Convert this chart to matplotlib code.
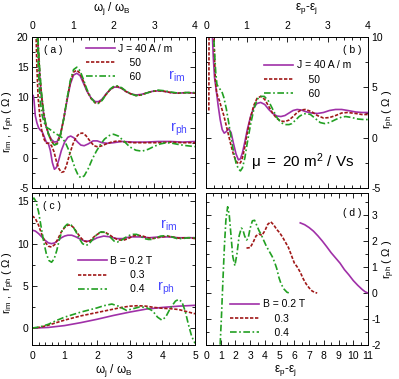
import matplotlib
matplotlib.use("Agg")
import matplotlib.pyplot as plt
from matplotlib.ticker import MultipleLocator
from matplotlib.lines import Line2D

plt.rcParams['font.family'] = ['Liberation Sans', 'DejaVu Sans']
plt.rcParams['mathtext.fontset'] = 'custom'
plt.rcParams['mathtext.rm'] = 'Liberation Sans'
plt.rcParams['mathtext.it'] = 'Liberation Sans'
plt.rcParams['axes.unicode_minus'] = False

# ---------------- panel (a): r_im, r_ph vs w_j / w_B ----------------
a_im40_x = [0.13, 0.16, 0.19, 0.23, 0.28, 0.34, 0.41, 0.48, 0.55, 0.62, 0.70, 0.78, 0.86, 0.94, 1.02, 1.10, 1.18,
            1.26, 1.35, 1.45, 1.55, 1.63, 1.72, 1.82, 1.92, 2.02, 2.10, 2.20, 2.30, 2.42, 2.55, 2.68, 2.80, 2.95,
            3.10, 3.25, 3.40, 3.60, 3.80, 4.00]
a_im40_y = [21, 17, 13.5, 10.2, 7.5, 5.3, 3.9, 3.0, 2.6, 2.7, 4.0, 6.5, 9.5, 12.2, 13.7, 14.0, 13.6, 12.4, 11.0,
            9.9, 9.3, 9.3, 9.7, 10.6, 11.3, 11.7, 11.7, 11.5, 11.0, 10.6, 10.4, 10.5, 10.7, 11.0, 11.1, 11.0,
            10.8, 10.7, 10.8, 10.7]
a_im50_x = a_im40_x
a_im50_y = [21.5, 17.5, 14, 10.6, 7.7, 5.4, 3.8, 2.7, 2.2, 2.4, 3.8, 6.5, 9.7, 12.5, 14.2, 14.5, 14.0, 12.7, 11.1,
            9.8, 9.1, 9.1, 9.6, 10.5, 11.3, 11.8, 11.8, 11.5, 11.0, 10.6, 10.3, 10.4, 10.7, 11.0, 11.1, 11.0,
            10.8, 10.7, 10.8, 10.7]
a_im60_x = a_im40_x
a_im60_y = [22, 18, 14.5, 11, 8, 5.5, 3.8, 2.6, 2.1, 2.3, 3.8, 6.5, 9.8, 12.8, 14.6, 15.0, 14.4, 13.0, 11.3,
            9.9, 9.1, 9.0, 9.5, 10.5, 11.4, 11.9, 11.9, 11.6, 11.1, 10.6, 10.3, 10.4, 10.7, 11.0, 11.2, 11.1,
            10.9, 10.7, 10.8, 10.8]

a_ph40_x = [0.03, 0.05, 0.08, 0.12, 0.16, 0.20, 0.25, 0.30, 0.35, 0.40, 0.45, 0.50, 0.55, 0.60, 0.66, 0.72, 0.80,
            0.88, 0.95, 1.03, 1.12, 1.20, 1.28, 1.38, 1.50, 1.60, 1.72, 1.85, 2.0, 2.2, 2.5, 2.8, 3.1, 3.4, 3.7, 4.0]
a_ph40_y = [10.3, 9.5, 7.0, 5.8, 5.0, 4.6, 4.3, 3.5, 2.6, 2.4, 1.2, -0.8, -1.9, -1.6, -0.3, 1.2, 2.6, 3.4, 3.6,
            3.3, 2.6, 2.1, 2.0, 2.3, 2.8, 2.8, 2.5, 2.4, 2.5, 2.7, 2.6, 2.6, 2.7, 2.7, 2.6, 2.7]
a_ph50_x = [0.10, 0.12, 0.15, 0.19, 0.24, 0.30, 0.36, 0.42, 0.48, 0.54, 0.60, 0.66, 0.72, 0.78, 0.84, 0.92, 1.00,
            1.08, 1.16, 1.24, 1.32, 1.42, 1.52, 1.62, 1.72, 1.82, 1.95, 2.1, 2.3, 2.5, 2.8, 3.1, 3.4, 3.7, 4.0]
a_ph50_y = [20.5, 15, 10, 7, 4.5, 3.0, 2.4, 2.4, 2.0, 1.0, -0.6, -1.8, -2.4, -2.3, -1.4, 0.5, 2.2, 3.4, 4.0, 4.1,
            3.7, 2.8, 2.0, 1.8, 2.0, 2.3, 2.6, 2.8, 2.6, 2.5, 2.5, 2.5, 2.6, 2.5, 2.5]
a_ph60_x = [0.13, 0.16, 0.20, 0.25, 0.30, 0.36, 0.42, 0.50, 0.58, 0.66, 0.74, 0.82, 0.90, 0.98, 1.06, 1.14, 1.20,
            1.28, 1.38, 1.48, 1.58, 1.68, 1.78, 1.90, 2.00, 2.12, 2.25, 2.40, 2.55, 2.70, 2.85, 3.00, 3.15, 3.30,
            3.45, 3.60, 3.80, 4.00]
a_ph60_y = [20.5, 14, 9.5, 7, 5.8, 5.0, 4.8, 4.4, 4.0, 3.7, 3.3, 2.5, 1.3, -0.2, -1.8, -3.0, -3.3, -3.0, -1.8,
            -0.2, 1.1, 2.2, 3.1, 3.7, 3.9, 3.6, 2.8, 1.8, 1.25, 1.1, 1.4, 1.9, 2.3, 2.5, 2.4, 2.2, 2.0, 1.85]

# ---------------- panel (b): r_ph vs e_p - e_j ----------------
b40_x = [0.15, 0.18, 0.21, 0.25, 0.30, 0.35, 0.40, 0.45, 0.50, 0.56, 0.62, 0.68, 0.74, 0.80, 0.85, 0.90, 0.96,
         1.02, 1.10, 1.18, 1.26, 1.35, 1.45, 1.55, 1.65, 1.75, 1.85, 1.95, 2.05, 2.15, 2.25, 2.35, 2.45, 2.60,
         2.75, 2.90, 3.05, 3.20, 3.35, 3.50, 3.70, 3.85, 4.0]
b40_y = [11, 8, 6, 4.8, 3.2, 1.8, 0.8, 0.45, 0.6, 0.9, 0.5, -0.6, -1.6, -2.2, -2.1, -1.5, -0.4, 0.8, 2.1, 3.0,
         3.4, 3.5, 3.3, 2.8, 2.4, 2.15, 2.1, 2.2, 2.45, 2.7, 2.8, 2.75, 2.6, 2.45, 2.4, 2.5, 2.7, 2.8, 2.8,
         2.7, 2.55, 2.5, 2.5]
b50_x = [0.07, 0.075, 0.19, 0.21, 0.23, 0.26, 0.29, 0.33, 0.38, 0.44, 0.50, 0.56, 0.62, 0.68, 0.74, 0.80, 0.85,
         0.90, 0.96, 1.02, 1.10, 1.18, 1.26, 1.35, 1.45, 1.55, 1.65, 1.75, 1.85, 1.95, 2.05, 2.15, 2.25, 2.35,
         2.45, 2.60, 2.75, 2.90, 3.05, 3.20, 3.35, 3.50, 3.70, 3.85, 4.0]
b50_y = [2.7, 11, 11, 8, 5.8, 4.6, 4.1, 3.7, 3.0, 2.2, 1.2, 0.2, -0.8, -1.7, -2.3, -2.6, -2.5, -2.0, -0.9, 0.5,
         2.0, 3.2, 3.9, 4.1, 3.8, 3.1, 2.4, 1.9, 1.65, 1.6, 1.75, 2.1, 2.5, 2.75, 2.8, 2.6, 2.2, 1.95, 2.0,
         2.2, 2.45, 2.5, 2.4, 2.3, 2.3]
b60_x = [0.18, 0.21, 0.24, 0.27, 0.31, 0.35, 0.39, 0.44, 0.50, 0.56, 0.62, 0.68, 0.74, 0.80, 0.85, 0.90, 0.96,
         1.02, 1.10, 1.18, 1.26, 1.35, 1.44, 1.55, 1.65, 1.75, 1.85, 1.95, 2.05, 2.12, 2.20, 2.30, 2.40, 2.48,
         2.58, 2.70, 2.82, 2.93, 3.05, 3.20, 3.35, 3.45, 3.60, 3.75, 3.90, 4.0]
b60_y = [11, 8.5, 6.5, 5.3, 5.0, 4.8, 4.6, 4.0, 2.9, 1.5, 0.0, -1.4, -2.5, -3.1, -3.3, -3.0, -2.0, -0.5, 1.3,
         2.8, 3.8, 4.1, 4.1, 3.6, 2.8, 2.0, 1.5, 1.3, 1.3, 1.4, 1.7, 2.1, 2.35, 2.4, 2.3, 1.9, 1.5, 1.4, 1.5,
         1.8, 2.05, 2.1, 2.0, 1.85, 1.8, 1.8]

# ---------------- panel (c): r_im, r_ph vs w_j / w_B for several B ----------------
c_im02_x = [0, 0.1, 0.2, 0.3, 0.4, 0.5, 0.6, 0.7, 0.8, 0.9, 1.0, 1.1, 1.22, 1.35, 1.5, 1.62, 1.73, 1.85, 2.0, 2.2,
            2.4, 2.6, 2.8, 3.0, 3.3, 3.6, 3.9, 4.2, 4.5, 4.8, 5.0]
c_im02_y = [11.6, 11.5, 11.2, 10.8, 10.4, 10.1, 10.0, 10.1, 10.4, 10.7, 10.9, 11.0, 11.0, 10.8, 10.5, 10.3, 10.3,
            10.4, 10.7, 10.9, 10.8, 10.6, 10.6, 10.8, 10.8, 10.7, 10.8, 10.8, 10.7, 10.7, 10.7]
c_im03_x = [0, 0.1, 0.2, 0.3, 0.4, 0.5, 0.6, 0.7, 0.8, 0.9, 1.0, 1.1, 1.18, 1.28, 1.4, 1.52, 1.62, 1.7, 1.8, 1.9,
            2.0, 2.12, 2.24, 2.36, 2.5, 2.65, 2.8, 2.95, 3.1, 3.23, 3.4, 3.55, 3.7, 3.85, 4.0, 4.15, 4.3, 4.5,
            4.7, 4.85, 5.0]
c_im03_y = [13.3, 13.0, 12.2, 11.1, 10.2, 9.7, 9.6, 9.9, 10.6, 11.4, 11.9, 12.2, 12.2, 11.9, 11.2, 10.6, 10.3,
            10.2, 10.4, 10.8, 11.1, 11.35, 11.35, 11.1, 10.7, 10.45, 10.4, 10.6, 10.9, 11.0, 10.9, 10.7, 10.6,
            10.7, 10.8, 10.9, 10.8, 10.65, 10.7, 10.7, 10.6]
c_im04_x = [0, 0.06, 0.12, 0.2, 0.28, 0.36, 0.44, 0.52, 0.6, 0.68, 0.76, 0.84, 0.92, 1.0, 1.08, 1.17, 1.26, 1.35,
            1.45, 1.55, 1.65, 1.73, 1.82, 1.92, 2.02, 2.12, 2.22, 2.32, 2.42, 2.52, 2.62, 2.72, 2.85, 3.0, 3.1,
            3.21, 3.32, 3.45, 3.57, 3.67, 3.8, 3.95, 4.13, 4.3, 4.45, 4.6, 4.8, 5.0]
c_im04_y = [15.2, 15.4, 15.0, 13.8, 12.0, 10.2, 8.8, 8.0, 7.8, 8.2, 9.2, 10.5, 11.5, 12.0, 12.3, 12.3, 12.0,
            11.4, 10.6, 10.0, 9.8, 9.9, 10.3, 10.8, 11.2, 11.4, 11.35, 11.1, 10.7, 10.3, 10.2, 10.35, 10.7,
            11.0, 11.1, 11.1, 10.9, 10.6, 10.5, 10.5, 10.7, 10.9, 10.95, 10.8, 10.6, 10.6, 10.7, 10.7]

c_ph02_x = [0, 0.5, 1.0, 1.5, 2.0, 2.5, 3.0, 3.5, 4.0, 4.5, 5.0]
c_ph02_y = [0, 0.08, 0.3, 0.65, 1.05, 1.5, 1.9, 2.25, 2.45, 2.6, 2.7]
c_ph03_x = [0, 0.25, 0.5, 0.75, 1.0, 1.25, 1.5, 1.75, 2.0, 2.25, 2.5, 2.75, 3.0, 3.25, 3.5, 3.75, 4.0, 4.25,
            4.5, 4.75, 5.0]
c_ph03_y = [0, 0.1, 0.35, 0.65, 0.95, 1.2, 1.45, 1.65, 1.85, 2.05, 2.25, 2.45, 2.6, 2.65, 2.6, 2.45, 2.35, 2.3,
            2.2, 1.95, 1.7]
c_ph04_x = [0, 0.25, 0.5, 0.75, 1.0, 1.25, 1.5, 1.75, 2.0, 2.2, 2.45, 2.65, 2.9, 3.1, 3.3, 3.5, 3.7, 3.85, 3.98,
            4.1, 4.25, 4.4, 4.5, 4.6, 4.7, 4.8, 4.9, 5.0]
c_ph04_y = [0, 0.15, 0.45, 0.9, 1.3, 1.6, 1.9, 2.15, 2.4, 2.65, 2.85, 2.6, 2.1, 2.3, 2.5, 2.45, 2.05, 1.3, 0.95,
            1.3, 2.4, 3.2, 3.4, 3.1, 2.0, 0.4, -1.0, -1.8]

# ---------------- panel (d): r_ph vs e_p - e_j for several B ----------------
d02_x = [6.4, 6.7, 7.0, 7.3, 7.6, 7.9, 8.2, 8.5, 8.8, 9.1, 9.4, 9.7, 10.0, 10.3, 10.6, 10.8, 11.0]
d02_y = [2.7, 2.63, 2.52, 2.38, 2.2, 2.0, 1.78, 1.55, 1.35, 1.15, 0.9, 0.7, 0.48, 0.3, 0.14, 0.05, 0.0]
d03_x = [2.75, 3.0, 3.2, 3.4, 3.6, 3.8, 4.0, 4.2, 4.4, 4.6, 4.8, 5.0, 5.2, 5.4, 5.6, 5.8, 6.0, 6.2, 6.4, 6.6,
         6.8, 7.0, 7.2, 7.4, 7.55]
d03_y = [1.73, 1.75, 1.95, 2.2, 2.27, 2.22, 2.4, 2.65, 2.74, 2.62, 2.45, 2.32, 2.15, 1.95, 1.75, 1.45, 1.15,
         1.0, 0.8, 0.55, 0.35, 0.2, 0.08, 0.02, 0.0]
d04_x = [0.9, 0.96, 1.05, 1.15, 1.25, 1.35, 1.47, 1.58, 1.7, 1.82, 1.96, 2.1, 2.25, 2.4, 2.5, 2.62, 2.75, 2.86,
         3.0, 3.15, 3.3, 3.45, 3.6, 3.75, 3.9, 4.1, 4.3, 4.5, 4.65, 4.8, 4.95, 5.1, 5.3, 5.5, 5.65]
d04_y = [-2.5, -2.0, -0.9, 0.5, 1.8, 2.8, 3.32, 3.0, 2.2, 1.4, 1.05, 1.5, 2.2, 2.5, 2.45, 2.2, 2.04, 2.1, 2.5,
         2.78, 2.8, 2.6, 2.4, 2.25, 2.05, 1.8, 1.6, 1.4, 1.2, 0.95, 0.6, 0.35, 0.15, 0.03, 0.0]

J_labels = ['J = 40 A / m', '    50', '    60']
B_labels_c = ['B = 0.2 T', '       0.3', '       0.4']
B_labels_d = ['B = 0.2 T', '    0.3', '    0.4']

PURPLE = '#a030a8'
RED = '#a01818'
GREEN = '#22a022'
BLUE = '#4848ff'
styles = [dict(color=PURPLE, ls='-'),
          dict(color=RED, ls=(0, (2, 1))),
          dict(color=GREEN, ls=(0, (4, 1.5, 1, 1.5)))]
LW = 1.2

fig = plt.figure(figsize=(3.99, 3.79), dpi=100)
W, H = 399.0, 379.0


def add_axes(x0, x1, y0, y1):
    return fig.add_axes([x0 / W, 1 - y1 / H, (x1 - x0) / W, (y1 - y0) / H])


ax_a = add_axes(32, 195, 37, 188)
ax_b = add_axes(206, 368, 37, 188)
ax_c = add_axes(32, 195, 193, 345)
ax_d = add_axes(206, 368, 193, 345)


def setup(ax, xlim, ylim, xmaj, xmin, ymaj, ymin):
    ax.set_xlim(*xlim)
    ax.set_ylim(*ylim)
    ax.xaxis.set_major_locator(MultipleLocator(xmaj))
    ax.xaxis.set_minor_locator(MultipleLocator(xmin))
    ax.yaxis.set_major_locator(MultipleLocator(ymaj))
    ax.yaxis.set_minor_locator(MultipleLocator(ymin))
    ax.tick_params(which='both', direction='in', top=True, right=True, labelsize=7.5, width=0.6)
    ax.tick_params(which='major', length=3.5)
    ax.tick_params(which='minor', length=2)
    ax.tick_params(axis='x', pad=4)
    ax.tick_params(axis='y', pad=2.5)
    for s in ax.spines.values():
        s.set_linewidth(0.7)


setup(ax_a, (0, 4), (-5, 20), 1, 0.2, 5, 2.5)
ax_a.tick_params(labeltop=True, labelbottom=False)
setup(ax_b, (0, 4), (-5, 10), 1, 0.2, 5, 2.5)
ax_b.tick_params(labeltop=True, labelbottom=False, labelleft=False, labelright=True)
setup(ax_c, (0, 5), (-2, 16), 1, 0.2, 5, 2.5)
setup(ax_d, (0, 11), (-2, 3.85), 1, 0.5, 1, 0.5)
ax_d.tick_params(labelleft=False, labelright=True)

# panel a
for xs, ys, st in [(a_im40_x, a_im40_y, styles[0]), (a_im50_x, a_im50_y, styles[1]), (a_im60_x, a_im60_y, styles[2]),
                   (a_ph40_x, a_ph40_y, styles[0]), (a_ph50_x, a_ph50_y, styles[1]), (a_ph60_x, a_ph60_y, styles[2])]:
    ax_a.plot(xs, ys, lw=LW, **st)
# panel b
for xs, ys, st in [(b40_x, b40_y, styles[0]), (b50_x, b50_y, styles[1]), (b60_x, b60_y, styles[2])]:
    ax_b.plot(xs, ys, lw=LW, **st)
# panel c
for xs, ys, st in [(c_im02_x, c_im02_y, styles[0]), (c_im03_x, c_im03_y, styles[1]), (c_im04_x, c_im04_y, styles[2]),
                   (c_ph02_x, c_ph02_y, styles[0]), (c_ph03_x, c_ph03_y, styles[1]), (c_ph04_x, c_ph04_y, styles[2])]:
    ax_c.plot(xs, ys, lw=LW, **st)
# panel d
for xs, ys, st in [(d02_x, d02_y, styles[0]), (d03_x, d03_y, styles[1]), (d04_x, d04_y, styles[2])]:
    ax_d.plot(xs, ys, lw=LW, **st)

handles = [Line2D([], [], lw=LW, **st) for st in styles]
leg_kw = dict(frameon=False, fontsize=7.5, handlelength=2.8, handletextpad=0.3, labelspacing=0.4,
              borderpad=0, borderaxespad=0, loc='upper left')
ax_a.legend(handles, J_labels, bbox_to_anchor=(0.33, 0.955), **leg_kw)
ax_b.legend(handles, J_labels, bbox_to_anchor=(0.36, 0.845), **leg_kw)
ax_c.legend(handles, B_labels_c, bbox_to_anchor=(0.28, 0.585), **leg_kw)
ax_d.legend(handles, B_labels_d, bbox_to_anchor=(0.15, 0.30), **leg_kw)

# panel tags
ax_a.text(0.13, 0.915, '( a )', transform=ax_a.transAxes, fontsize=7.5, ha='center', va='center')
ax_b.text(0.9, 0.915, '( b )', transform=ax_b.transAxes, fontsize=7.5, ha='center', va='center')
ax_c.text(0.12, 0.915, '( c )', transform=ax_c.transAxes, fontsize=7.5, ha='center', va='center')
ax_d.text(0.9, 0.87, '( d )', transform=ax_d.transAxes, fontsize=7.5, ha='center', va='center')

# r_im / r_ph tags
ax_a.text(0.89, 0.74, r'$\mathregular{r_{im}}$', transform=ax_a.transAxes, color=BLUE, fontsize=10.5, ha='center', va='center')
ax_a.text(0.9, 0.39, r'$\mathregular{r_{ph}}$', transform=ax_a.transAxes, color=BLUE, fontsize=10.5, ha='center', va='center')
ax_c.text(0.84, 0.79, r'$\mathregular{r_{im}}$', transform=ax_c.transAxes, color=BLUE, fontsize=10.5, ha='center', va='center')
ax_c.text(0.82, 0.37, r'$\mathregular{r_{ph}}$', transform=ax_c.transAxes, color=BLUE, fontsize=10.5, ha='center', va='center')

ax_b.text(0.6, 0.17, r'$\mathregular{\mu\ =\ 20\ m^2\ /\ Vs}$', transform=ax_b.transAxes, fontsize=11,
          ha='center', va='center')

# axis labels
w_lab = r'$\mathregular{\omega_j\ /\ \omega_B}$'
e_lab = r'$\mathregular{\epsilon_p}$-$\mathregular{\epsilon_j}$'
ax_a.text(0.49, 1.19, w_lab, transform=ax_a.transAxes, fontsize=8.5, ha='center', va='center')
ax_b.text(0.62, 1.19, e_lab, transform=ax_b.transAxes, fontsize=8.5, ha='center', va='center')
ax_c.text(0.5, -0.165, w_lab, transform=ax_c.transAxes, fontsize=8.5, ha='center', va='center')
ax_d.text(0.49, -0.165, e_lab, transform=ax_d.transAxes, fontsize=8.5, ha='center', va='center')

y_lab = r'$\mathregular{r_{im}\ ,\ r_{ph}\ (\ \Omega\ )}$'
ax_a.text(-0.14, 0.44, y_lab, transform=ax_a.transAxes, fontsize=8, rotation=90, ha='center', va='center')
ax_c.text(-0.14, 0.41, y_lab, transform=ax_c.transAxes, fontsize=8, rotation=90, ha='center', va='center')
yr_lab = r'$\mathregular{r_{ph}\ (\ \Omega\ )}$'
ax_b.text(1.13, 0.52, yr_lab, transform=ax_b.transAxes, fontsize=8, rotation=90, ha='center', va='center')
ax_d.text(1.13, 0.56, yr_lab, transform=ax_d.transAxes, fontsize=8, rotation=90, ha='center', va='center')

fig.savefig('out.png', dpi=100)
